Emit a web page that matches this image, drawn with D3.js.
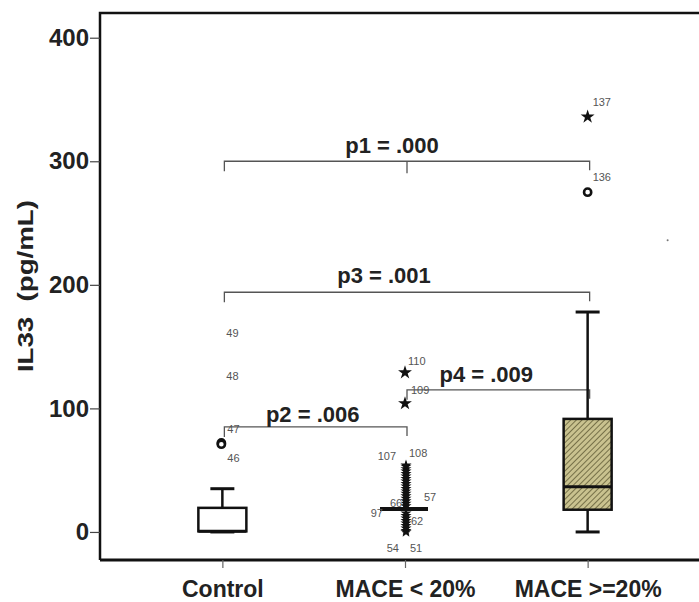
<!DOCTYPE html>
<html lang="en">
  <head>
    <meta charset="UTF-8" />
    <title>IL33 box plot</title>
    <script src="https://cdn.jsdelivr.net/npm/d3@7"></script>
    <style>
      body { margin: 0; background: #fff; }
      svg { display: block; font-family: Arial, 'Liberation Sans', sans-serif; }
    </style>
  </head>
  <body>
    <div id="container"></div>
    <script>
      // groups and box stats
      const groups = ['Control', 'MACE < 20%', 'MACE >=20%']
      const whiskerLow = [0, 18, 0]
      const q1 = [0.5, 17, 18]
      const median = [0.5, 18.5, 36.5]
      const q3 = [19.5, 20, 91.5]
      const whiskerHigh = [35, 18, 178]
      const boxFill = ['white', 'white', 'hatch']

      // outliers: group, value, kind ('o' circle, '*' star)
      const outlierGroup = ['Control', 'Control', 'MACE < 20%', 'MACE < 20%',
        'MACE >=20%', 'MACE >=20%']
      const outlierValue = [72, 71, 129, 104, 275, 336]
      const outlierKind = ['o', 'o', '*', '*', 'o', '*']

      // star cloud of the middle group
      const cloudValues = [0, 1, 3, 5, 7, 9, 11, 13, 15, 21, 23, 25, 27, 29, 31,
        33, 35, 37, 39, 41, 43, 45, 47, 49, 51, 53, 54]

      // case labels: group, value, text, dx, anchor
      const caseGroup = ['Control', 'Control', 'Control', 'Control',
        'MACE < 20%', 'MACE < 20%', 'MACE < 20%', 'MACE < 20%', 'MACE < 20%',
        'MACE < 20%', 'MACE < 20%', 'MACE < 20%', 'MACE < 20%', 'MACE < 20%',
        'MACE >=20%', 'MACE >=20%']
      const caseValue = [161, 126, 83, 60, 138, 115, 61, 64, 28, 15, 23, 9, -13, -13, 348, 287]
      const caseText = ['49', '48', '47', '46', '110', '109', '107', '108', '57', '97',
        '66', '62', '54', '51', '137', '136']
      const caseDx = [4, 4, 5, 5, 3, 6, -9, 4, 19, -22, -15, 6, -6, 5, 5, 5]
      const caseAnchor = ['start', 'start', 'start', 'start', 'start', 'start', 'end',
        'start', 'start', 'end', 'start', 'start', 'end', 'start', 'start', 'start']

      // significance brackets
      const pText = ['p1 = .000', 'p3 = .001', 'p2 = .006', 'p4 = .009']
      const pFrom = ['Control', 'Control', 'Control', 'MACE < 20%']
      const pTo = ['MACE >=20%', 'MACE >=20%', 'MACE < 20%', 'MACE >=20%']
      const pLevel = [300, 194, 85, 115]
      const pShift = [-15, -23, -3, -12]
      const pGap = [8, 9, 5, 8]
      const yTicks = [0, 100, 200, 300, 400]

      const width = 699
      const height = 602
      const marginLeft = 100
      const plotRight = 710
      const plotTop = 13
      const plotBottom = 560

      const x = d3.scalePoint()
        .domain(groups)
        .range([marginLeft, plotRight])
        .padding(0.67)

      const y = d3.scaleLinear()
        .domain([-22.7, 420])
        .range([plotBottom, plotTop])

      const svg = d3.select('#container').append('svg')
        .attr('width', width)
        .attr('height', height)
        .attr('viewBox', [0, 0, width, height])

      // hatch pattern
      const pat = svg.append('defs').append('pattern')
        .attr('id', 'hatch')
        .attr('patternUnits', 'userSpaceOnUse')
        .attr('width', 4)
        .attr('height', 4)
        .attr('patternTransform', 'rotate(45)')
      pat.append('rect').attr('width', 4).attr('height', 4).attr('fill', '#c9c28f')
      pat.append('line').attr('x1', 0).attr('y1', 0).attr('x2', 0).attr('y2', 4)
        .attr('stroke', '#5f5b35').attr('stroke-width', 1.6)

      // frame
      svg.append('path')
        .attr('d', `M${marginLeft},${plotBottom}V${plotTop}H${plotRight}`)
        .attr('fill', 'none').attr('stroke', '#111').attr('stroke-width', 2.5)

      // y axis
      const yAxis = svg.append('g')
        .attr('transform', `translate(${marginLeft},0)`)
        .call(d3.axisLeft(y).tickValues(yTicks).tickSize(10).tickPadding(1))
      yAxis.select('.domain').remove()
      yAxis.selectAll('line').attr('stroke', '#444').attr('stroke-width', 1.2)
      yAxis.selectAll('text')
        .attr('font-size', 24).attr('font-weight', 'bold').attr('fill', '#222')
        .attr('font-family', 'Arial, Liberation Sans, sans-serif')

      // x axis
      const xAxis = svg.append('g')
        .attr('transform', `translate(0,${plotBottom})`)
        .call(d3.axisBottom(x).tickSize(8).tickPadding(13))
      xAxis.select('.domain')
        .attr('d', `M${marginLeft},0H${plotRight}`)
        .attr('stroke', '#111').attr('stroke-width', 3)
      xAxis.selectAll('line').attr('stroke', '#666').attr('stroke-width', 1.2)
      xAxis.selectAll('text')
        .attr('font-size', 23).attr('font-weight', 'bold').attr('fill', '#222')
        .attr('font-family', 'Arial, Liberation Sans, sans-serif')

      // y axis title
      svg.append('text')
        .attr('transform', `translate(33,${y(199)}) rotate(-90)`)
        .attr('text-anchor', 'middle')
        .attr('font-size', 22).attr('font-weight', 'bold').attr('fill', '#222')
        .attr('textLength', 172).attr('lengthAdjust', 'spacingAndGlyphs')
        .text('IL33\u00a0\u00a0(pg/mL)')

      // brackets
      const brackets = svg.append('g').attr('stroke', '#555').attr('stroke-width', 1.3).attr('fill', 'none')
      pText.forEach((t, i) => {
        const x0 = x(pFrom[i]) + 2
        const x1 = x(pTo[i]) + 2
        const yy = y(pLevel[i])
        brackets.append('path')
          .attr('d', `M${x0},${yy + 10}V${yy}H${x1}V${yy + 9}`)
        if (i === 0) {
          brackets.append('path').attr('d', `M${x(groups[1]) + 2},${yy}V${yy + 12}`)
        }
        svg.append('text')
          .attr('x', (x0 + x1) / 2 + pShift[i])
          .attr('y', yy - pGap[i])
          .attr('text-anchor', 'middle')
          .attr('font-size', 22).attr('font-weight', 'bold').attr('fill', '#222')
          .text(t)
      })

      // boxes
      const bw = 48
      const cap = 24
      const boxes = svg.append('g').attr('stroke', '#111')
      groups.forEach((g, i) => {
        const cx = x(g)
        if (i === 1) {
          // collapsed box: a single wide line
          boxes.append('line')
            .attr('x1', cx - bw / 2 - 1).attr('x2', cx + bw / 2 - 1)
            .attr('y1', y(median[i])).attr('y2', y(median[i]))
            .attr('stroke-width', 4)
          return
        }
        boxes.append('line')
          .attr('x1', cx).attr('x2', cx)
          .attr('y1', y(whiskerLow[i])).attr('y2', y(q1[i]))
          .attr('stroke-width', 2.5)
        boxes.append('line')
          .attr('x1', cx).attr('x2', cx)
          .attr('y1', y(q3[i])).attr('y2', y(whiskerHigh[i]))
          .attr('stroke-width', 2.5)
        boxes.append('line')
          .attr('x1', cx - cap / 2).attr('x2', cx + cap / 2)
          .attr('y1', y(whiskerLow[i])).attr('y2', y(whiskerLow[i]))
          .attr('stroke-width', 3)
        boxes.append('line')
          .attr('x1', cx - cap / 2).attr('x2', cx + cap / 2)
          .attr('y1', y(whiskerHigh[i])).attr('y2', y(whiskerHigh[i]))
          .attr('stroke-width', 3)
        boxes.append('rect')
          .attr('x', cx - bw / 2).attr('width', bw)
          .attr('y', y(q3[i])).attr('height', y(q1[i]) - y(q3[i]))
          .attr('fill', boxFill[i] === 'hatch' ? 'url(#hatch)' : boxFill[i])
          .attr('stroke-width', 2.5)
        boxes.append('line')
          .attr('x1', cx - bw / 2).attr('x2', cx + bw / 2)
          .attr('y1', y(median[i])).attr('y2', y(median[i]))
          .attr('stroke-width', 3)
      })

      // star cloud for the middle group
      const star = d3.symbol().type(d3.symbolStar).size(60)
      const smallStar = d3.symbol().type(d3.symbolStar).size(38)
      svg.append('g').selectAll('path')
        .data(cloudValues)
        .join('path')
        .attr('d', smallStar)
        .attr('transform', (d) => `translate(${x(groups[1]) + 1},${y(d)})`)
        .attr('fill', '#111')

      // outliers
      const outl = svg.append('g')
      outlierValue.forEach((v, i) => {
        const cx = x(outlierGroup[i]) - (outlierGroup[i] === 'Control' ? 1 : 0)
        if (outlierKind[i] === 'o') {
          outl.append('circle')
            .attr('cx', cx).attr('cy', y(v)).attr('r', 3.6)
            .attr('fill', 'white').attr('stroke', '#111').attr('stroke-width', 2.6)
        } else {
          outl.append('path')
            .attr('d', star)
            .attr('transform', `translate(${cx},${y(v)})`)
            .attr('fill', '#111')
        }
      })

      // case labels
      svg.append('g')
        .selectAll('text')
        .data(caseText)
        .join('text')
        .attr('x', (d, i) => x(caseGroup[i]) + caseDx[i])
        .attr('y', (d, i) => y(caseValue[i]))
        .attr('dy', '0.35em')
        .attr('text-anchor', (d, i) => caseAnchor[i])
        .attr('font-size', 11)
        .attr('fill', '#555')
        .attr('font-family', 'Liberation Sans Narrow, Arial, sans-serif')
        .text((d) => d)

      // stray speck at right
      svg.append('circle')
        .attr('cx', x(groups[2]) + 80).attr('cy', y(236)).attr('r', 1)
        .attr('fill', '#777')
    </script>
  </body>
</html>
